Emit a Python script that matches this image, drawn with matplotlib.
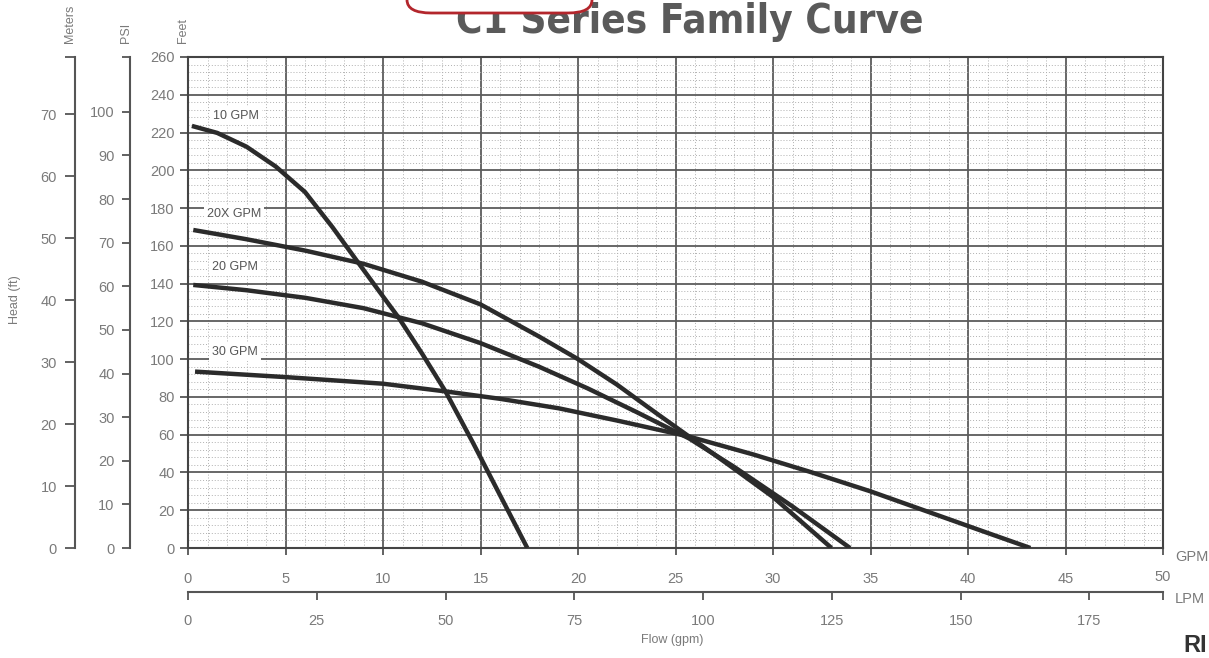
"""C1 Series family curve, redrawn from the scanned pump chart."""

import matplotlib
matplotlib.use("Agg")
import matplotlib.pyplot as plt
from matplotlib.patches import FancyBboxPatch
from matplotlib.ticker import MultipleLocator

W, H = 1209, 658
FT_PER_M = 3.2808
FT_PER_PSI = 2.31
LPM_PER_GPM = 3.78541

# curves: flow (gpm) vs head (ft)
gpm_10 = [0.2, 1.5, 3.0, 4.5, 6.0, 7.4, 8.7, 9.8, 10.8, 12.0, 13.2, 14.6, 16.0, 17.4]
head_10 = [223.5, 219.8, 212.5, 202, 188.5, 170, 151.5, 136, 122, 103, 83, 56, 28, 0]

gpm_20x = [0.27, 3, 6, 9, 12, 15, 18, 20, 22, 24, 25.7, 27.6, 30, 33.0]
head_20x = [168.4, 163.5, 157.5, 150.5, 141, 129, 112, 100, 86.5, 71.5, 59, 45, 27, 0]

gpm_20 = [0.27, 3, 6, 9, 12, 15, 18, 20.5, 23, 25.7, 28, 31, 33.95]
head_20 = [139.3, 136.5, 132.5, 127, 119, 108.5, 96, 84.5, 72, 58, 43, 22, 0]

gpm_30 = [0.36, 5, 10, 13.3, 16, 19, 22, 25.7, 29, 32, 35, 38, 41, 43.2]
head_30 = [93.4, 90.5, 87, 82.8, 79, 74, 67.5, 59, 49.5, 40, 30, 19, 8, 0]

curve_names = ["10 GPM", "20X GPM", "20 GPM", "30 GPM"]
label_pos = [(1.28, 229), (0.97, 177), (1.23, 149), (1.23, 104)]

feet_ticks = list(range(0, 261, 20))
psi_ticks = list(range(0, 101, 10))
meter_ticks = list(range(0, 71, 10))
gpm_ticks = list(range(0, 51, 5))
lpm_ticks = list(range(0, 176, 25))

plt.rcParams["font.family"] = ["Liberation Sans", "DejaVu Sans"]
TXT = "#7a7a7a"
LINE = "#2b2b2b"
AX = "#555555"

fig = plt.figure(figsize=(W / 100, H / 100), dpi=100)
fig.patch.set_facecolor("white")


def fx(px):
    return px / W


def fy(py):
    return 1 - py / H


left, right, top, bot = 188, 1163, 57, 548
ax = fig.add_axes([fx(left), fy(bot), fx(right - left), (bot - top) / H])
ax.set_xlim(0, 50)
ax.set_ylim(0, 260)
ax.set_xticks(gpm_ticks)
ax.set_xticklabels([str(t) if t < 50 else "" for t in gpm_ticks])
ax.set_yticks(feet_ticks)
ax.xaxis.set_minor_locator(MultipleLocator(1))
ax.yaxis.set_minor_locator(MultipleLocator(4))
ax.grid(which="major", color="#5c5c5c", lw=1.3)
ax.grid(which="minor", color="#b0b0b0", lw=0.7, ls=(0, (1, 2)))
ax.set_axisbelow(True)
ax.tick_params(which="minor", length=0)
ax.tick_params(axis="x", which="major", direction="out", length=5, width=1.3,
               pad=12, colors=AX, labelcolor=TXT, labelsize=10.5)
ax.tick_params(axis="y", which="major", direction="out", length=6, width=1.3,
               pad=3.5, colors=AX, labelcolor=TXT, labelsize=10.5)
for s in ax.spines.values():
    s.set_color("#444444")
    s.set_linewidth(1.5)

for q, h in [(gpm_10, head_10), (gpm_20x, head_20x), (gpm_20, head_20), (gpm_30, head_30)]:
    ax.plot(q, h, color=LINE, lw=3.2, solid_capstyle="butt", solid_joinstyle="round", zorder=3)

for name, (x, y) in zip(curve_names, label_pos):
    ax.text(x, y, name, fontsize=9, color="#555555", va="center", ha="left", zorder=4,
            bbox=dict(boxstyle="square,pad=0.25", fc="white", ec="none"))

# meters and psi scales on the far left
for xpos, top_val, ticks, pad, tlen in [(75, 260 / FT_PER_M, meter_ticks, 6, 7),
                                       (130, 260 / FT_PER_PSI, psi_ticks, 5, 6)]:
    a = fig.add_axes([fx(xpos), fy(bot), 0.0001, (bot - top) / H])
    a.set_ylim(0, top_val)
    a.set_yticks(ticks)
    a.set_yticks([top_val], minor=True)
    a.set_xticks([])
    a.patch.set_visible(False)
    for k in ("top", "right", "bottom"):
        a.spines[k].set_visible(False)
    a.spines["left"].set_color(AX)
    a.spines["left"].set_linewidth(1.5)
    a.tick_params(axis="y", which="both", direction="out", length=tlen, width=1.3,
                  pad=pad, colors=AX, labelcolor=TXT, labelsize=10.5)

# LPM scale under the gpm axis
lpm_ax = fig.add_axes([fx(left), fy(592), fx(right - left), 0.0001])
lpm_ax.set_xlim(0, 50 * LPM_PER_GPM)
lpm_ax.set_xticks(lpm_ticks)
lpm_ax.set_xticks([50 * LPM_PER_GPM], minor=True)
lpm_ax.set_yticks([])
lpm_ax.patch.set_visible(False)
for k in ("top", "right", "left"):
    lpm_ax.spines[k].set_visible(False)
lpm_ax.spines["bottom"].set_color(AX)
lpm_ax.spines["bottom"].set_linewidth(1.5)
lpm_ax.tick_params(axis="x", which="both", direction="out", length=6, width=1.3,
                   pad=10, colors=AX, labelcolor=TXT, labelsize=10.5)

# axis titles and unit tags
fig.text(fx(70), fy(43), "Meters", rotation=90, ha="center", va="bottom", fontsize=9, color=TXT)
fig.text(fx(126), fy(43), "PSI", rotation=90, ha="center", va="bottom", fontsize=9, color=TXT)
fig.text(fx(183), fy(43), "Feet", rotation=90, ha="center", va="bottom", fontsize=9, color=TXT)
fig.text(fx(15), fy(300), "Head (ft)", rotation=90, ha="center", va="center", fontsize=9, color=TXT)
fig.text(fx(672), fy(640), "Flow (gpm)", ha="center", va="center", fontsize=9, color=TXT)
fig.text(fx(1175), fy(557), "GPM", ha="left", va="center", fontsize=10.5, color=TXT)
fig.text(fx(1175), fy(599), "LPM", ha="left", va="center", fontsize=10.5, color=TXT)
fig.text(fx(1163), fy(577), "50", ha="center", va="center", fontsize=10.5, color=TXT)
fig.text(fx(1183), fy(645), "RI", ha="left", va="center", fontsize=17, color="#333333",
         fontweight="bold")

fig.text(fx(690), fy(33), "C1 Series Family Curve", ha="center", va="baseline",
         fontsize=29, fontweight="bold", fontstretch="condensed", color="#5a5a5a",
         family=["DejaVu Sans Condensed", "DejaVu Sans"], zorder=1)
box = FancyBboxPatch((fx(407), fy(13)), fx(185), 0.1,
                     boxstyle="round,pad=0,rounding_size=0.02", transform=fig.transFigure,
                     fc="white", ec="#b3262c", lw=2, zorder=5)
fig.patches.append(box)

fig.savefig("out.png", dpi=100, facecolor="white")
